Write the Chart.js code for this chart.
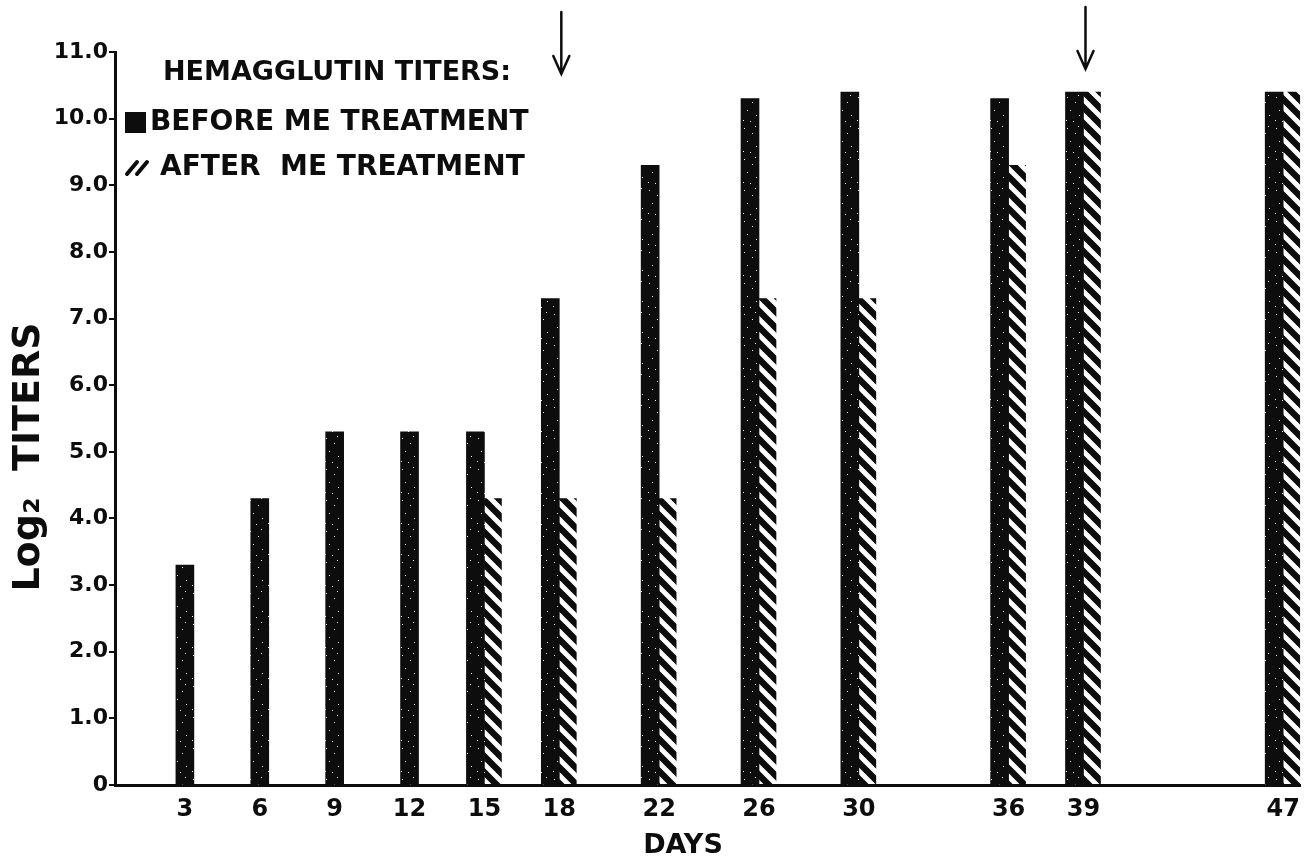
<!DOCTYPE html>
<html>
<head>
<meta charset="utf-8">
<script src="https://cdn.jsdelivr.net/npm/chart.js@4/dist/chart.umd.min.js"></script>
<style>
    html, body { margin: 0; padding: 0; background: #ffffff; }
    #wrap { width: 1310px; height: 862px; }
</style>
</head>
<body>
<div id="wrap"><canvas id="titerChart"></canvas></div>
<script>
    var days = [3, 6, 9, 12, 15, 18, 22, 26, 30, 36, 39, 47];
    var beforeTiters = [3.3, 4.3, 5.3, 5.3, 5.3, 7.3, 9.3, 10.3, 10.4, 10.3, 10.4, 10.4];
    var afterTiters = [null, null, null, null, 4.3, 4.3, 4.3, 7.3, 7.3, 9.3, 10.4, 10.4];
    var arrowDays = [18, 39];
    var legendTitle = 'HEMAGGLUTIN TITERS:';
    var xTitle = 'DAYS';
    var yTitle = 'Log\u2082  TITERS';

    var FONT = '"DejaVu Sans", "Liberation Sans", sans-serif';
    var INK = '#0d0d0d';

    // diagonal hatch for the "after" bars
    function makeHatch() {
        var s = 16;
        var c = document.createElement('canvas');
        c.width = s;
        c.height = s;
        var g = c.getContext('2d');
        g.strokeStyle = INK;
        g.lineWidth = 6.5;
        [-s, 0, s].forEach(function (off) {
            g.beginPath();
            g.moveTo(off - 2, -2);
            g.lineTo(off + s + 2, s + 2);
            g.stroke();
        });
        return g.createPattern(c, 'repeat');
    }

    // black ink with a few white specks, like the print
    function makeSpeckle() {
        var c = document.createElement('canvas');
        c.width = 19;
        c.height = 31;
        var g = c.getContext('2d');
        g.fillStyle = INK;
        g.fillRect(0, 0, 19, 31);
        g.fillStyle = '#ffffff';
        [[3, 4], [11, 9], [6, 17], [15, 22], [2, 27], [9, 28], [14, 2]].forEach(function (p) {
            g.fillRect(p[0], p[1], 1, 1);
        });
        return g.createPattern(c, 'repeat');
    }

    var hatch = makeHatch();
    var speckle = makeSpeckle();

    function points(values) {
        return days.map(function (d, i) {
            return {x: d, y: values[i]};
        });
    }

    // arrows, axis titles and the legend inside the plot area
    var decorPlugin = {
        id: 'decor',
        afterDraw: function (chart) {
            var ctx = chart.ctx;
            var xs = chart.scales.x;
            var area = chart.chartArea;
            ctx.save();
            ctx.strokeStyle = INK;
            ctx.fillStyle = INK;
            ctx.lineCap = 'round';

            arrowDays.forEach(function (d, i) {
                var px = xs.getPixelForValue(d) + 2;
                var tip = area.top + 22 - i * 5;
                ctx.lineWidth = 2.5;
                ctx.beginPath();
                ctx.moveTo(px, tip - 62);
                ctx.lineTo(px, tip);
                ctx.moveTo(px - 8, tip - 18);
                ctx.lineTo(px, tip);
                ctx.lineTo(px + 8, tip - 18);
                ctx.stroke();
            });

            ctx.textBaseline = 'middle';
            ctx.textAlign = 'center';
            ctx.font = 'bold 27px ' + FONT;
            ctx.fillText(xTitle, area.left + 568, area.bottom + 61);

            ctx.save();
            ctx.translate(area.left - 86, area.top + 405);
            ctx.rotate(-Math.PI / 2);
            ctx.font = 'bold 38px ' + FONT;
            ctx.fillText(yTitle, 0, 0);
            ctx.restore();

            ctx.textAlign = 'left';
            ctx.font = 'bold 27px ' + FONT;
            ctx.fillText(legendTitle, area.left + 48, area.top + 21);

            var sets = chart.data.datasets;
            ctx.font = 'bold 28px ' + FONT;
            ctx.fillRect(area.left + 10, area.top + 60, 21, 21);
            ctx.fillText(sets[0].label, area.left + 35, area.top + 71);
            ctx.lineWidth = 4;
            ctx.beginPath();
            ctx.moveTo(area.left + 12, area.top + 122);
            ctx.lineTo(area.left + 22, area.top + 110);
            ctx.moveTo(area.left + 22, area.top + 122);
            ctx.lineTo(area.left + 32, area.top + 110);
            ctx.stroke();
            ctx.fillText(sets[1].label, area.left + 45, area.top + 116);
            ctx.restore();
        }
    };

    var ctx = document.getElementById('titerChart');
    var titerChart = new Chart(ctx, {
        type: 'bar',
        data: {
            datasets: [{
                label: 'BEFORE ME TREATMENT',
                data: points(beforeTiters),
                backgroundColor: speckle,
                barThickness: 18,
                skipNull: true,
            }, {
                label: 'AFTER  ME TREATMENT',
                data: points(afterTiters),
                backgroundColor: hatch,
                barThickness: 17,
                skipNull: true,
            }]
        },
        options: {
            responsive: true,
            maintainAspectRatio: false,
            animation: false,
            events: [],
            layout: {
                padding: {top: 52, right: 8, left: 0, bottom: 0}
            },
            plugins: {
                legend: {display: false},
                tooltip: {enabled: false},
            },
            scales: {
                x: {
                    type: 'linear',
                    min: 0.2,
                    max: 47.68,
                    offset: false,
                    afterBuildTicks: function (scale) {
                        scale.ticks = days.map(function (d) {
                            return {value: d};
                        });
                    },
                    afterFit: function (scale) {
                        scale.height = 77;
                    },
                    grid: {display: true, drawOnChartArea: false, drawTicks: false},
                    border: {display: true, color: INK, width: 3},
                    ticks: {
                        color: INK,
                        padding: 10,
                        font: {family: FONT, size: 24, weight: 'bold'},
                        callback: function (v) {
                            return String(v);
                        }
                    }
                },
                y: {
                    min: 0,
                    max: 11,
                    afterFit: function (scale) {
                        scale.width = 115;
                    },
                    grid: {
                        display: true,
                        drawOnChartArea: false,
                        drawTicks: true,
                        tickLength: 6,
                        color: INK,
                        lineWidth: 2,
                    },
                    border: {display: true, color: INK, width: 3},
                    ticks: {
                        stepSize: 1,
                        color: INK,
                        padding: 1,
                        font: {family: FONT, size: 22, weight: 'bold'},
                        callback: function (v) {
                            return v === 0 ? '0' : v.toFixed(1);
                        }
                    }
                }
            }
        },
        plugins: [decorPlugin]
    });
</script>
</body>
</html>
